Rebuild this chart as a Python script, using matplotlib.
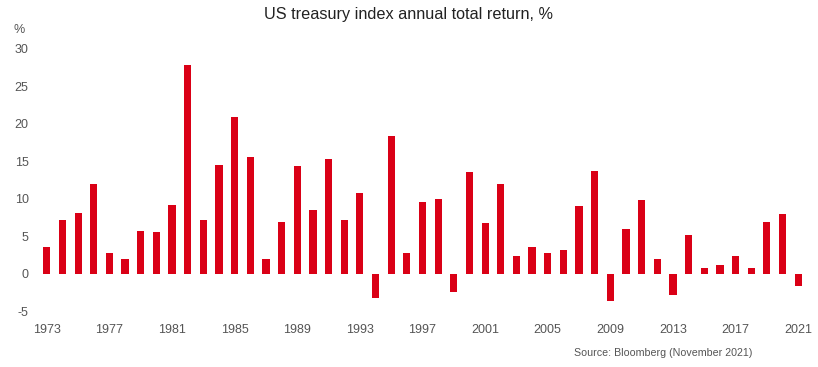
import matplotlib
matplotlib.use("Agg")
import matplotlib.pyplot as plt
import numpy as np

# Data
years = list(range(1973, 2022))
returns = [3.5, 7.1, 8.1, 11.9, 2.7, 2.0, 5.7, 5.6, 9.2, 27.8,
           7.1, 14.5, 20.9, 15.6, 2.0, 6.9, 14.4, 8.5, 15.3, 7.2,
           10.7, -3.3, 18.4, 2.7, 9.6, 10.0, -2.5, 13.6, 6.8, 11.9,
           2.3, 3.6, 2.8, 3.1, 9.0, 13.7, -3.6, 5.9, 9.8, 2.0,
           -2.8, 5.1, 0.8, 1.1, 2.3, 0.8, 6.9, 8.0, -1.7]
tick_years = list(range(1973, 2022, 4))
yticks = [-5, 0, 5, 10, 15, 20, 25, 30]

bar_color = "#DA0016"
text_grey = "#555555"

plt.rcParams['font.family'] = ['Liberation Sans', 'DejaVu Sans']

fig = plt.figure(figsize=(8.18, 3.67), dpi=100)
ax = fig.add_axes([39 / 818, 1 - 311 / 367, (806 - 39) / 818, (311 - 48.7) / 367])

x = np.arange(len(years))
ax.bar(x, returns, width=0.46, color=bar_color)

ax.set_xlim(-0.5, len(years) - 0.5)
ax.set_ylim(-5, 30)
ax.set_yticks(yticks)
ax.set_yticklabels([str(v) for v in yticks])
ax.set_xticks([years.index(y) for y in tick_years])
ax.set_xticklabels([str(y) for y in tick_years])

for s in ax.spines.values():
    s.set_visible(False)
ax.tick_params(axis='y', length=0, pad=7.5, labelsize=9, labelcolor=text_grey)
ax.tick_params(axis='x', length=0, pad=9.5, labelsize=9, labelcolor=text_grey)

fig.text(0.5, 1 - 15 / 367, "US treasury index annual total return, %",
         ha='center', va='center', fontsize=11.7, color="#222222")
fig.text(13 / 818, 1 - 30 / 367, "%", ha='left', va='center',
         fontsize=9, color=text_grey)
fig.text(752 / 818, 1 - 353 / 367, "Source: Bloomberg (November 2021)",
         ha='right', va='center', fontsize=7.7, color=text_grey)

fig.savefig("out.png", dpi=100)
